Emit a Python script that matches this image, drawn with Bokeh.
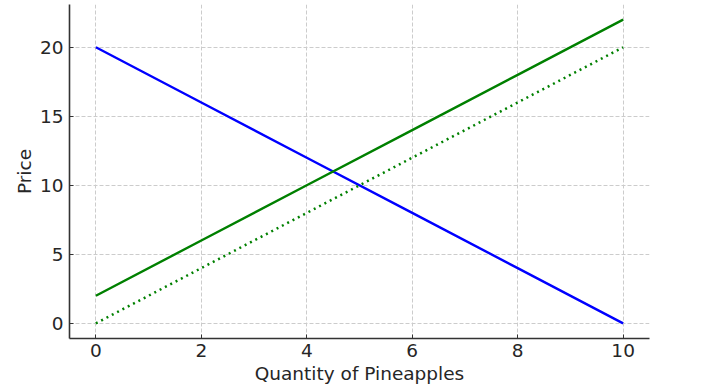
from bokeh.plotting import figure
from bokeh.models import Range1d, FixedTicker
from bokeh.embed import file_html
from bokeh.resources import INLINE

# Data
quantity = [0, 2, 4, 6, 8, 10]
demand = [20, 16, 12, 8, 4, 0]
supply_new = [2, 6, 10, 14, 18, 22]
supply_old = [0, 4, 8, 12, 16, 20]
x_ticks = [0, 2, 4, 6, 8, 10]
y_ticks = [0, 5, 10, 15, 20]

p = figure(width=720, height=388, output_backend="svg", toolbar_location=None,
           x_range=Range1d(-0.5, 10.5), y_range=Range1d(-1.1, 23.1),
           min_border_left=69, min_border_right=71, min_border_top=4, min_border_bottom=50)
p.outline_line_color = None
p.background_fill_color = "white"
p.border_fill_color = "white"

p.line(quantity, demand, line_color="#0000ff", line_width=2.4)
p.line(quantity, supply_new, line_color="#008000", line_width=2.4)
p.line(quantity, supply_old, line_color="#008000", line_width=2.5, line_dash="2 4")

for ax, ticks in ((p.xaxis[0], x_ticks), (p.yaxis[0], y_ticks)):
    ax.ticker = FixedTicker(ticks=ticks)
    ax.axis_line_color = "#333333"
    ax.axis_line_width = 1.6
    ax.major_tick_in = 4
    ax.major_tick_out = 0
    ax.major_tick_line_color = "#333333"
    ax.minor_tick_line_color = None
    ax.major_label_text_font = "DejaVu Sans"
    ax.major_label_text_font_size = "18.5px"
    ax.major_label_text_color = "#262626"
    ax.axis_label_text_font = "DejaVu Sans"
    ax.axis_label_text_font_size = "18.5px"
    ax.axis_label_text_font_style = "normal"
    ax.axis_label_text_color = "#262626"

p.xaxis.axis_label = "Quantity of Pineapples"
p.yaxis.axis_label = "Price"
p.xaxis.major_label_standoff = 5
p.xaxis.axis_label_standoff = 3
p.yaxis.major_label_standoff = 6
p.yaxis.axis_label_standoff = 2

p.xgrid.ticker = FixedTicker(ticks=x_ticks)
p.ygrid.ticker = FixedTicker(ticks=y_ticks)
for g in (p.xgrid[0], p.ygrid[0]):
    g.grid_line_color = "#cccccc"
    g.grid_line_width = 1
    g.grid_line_dash = "4 2"

open("out.html", "w").write(file_html(p, INLINE))
